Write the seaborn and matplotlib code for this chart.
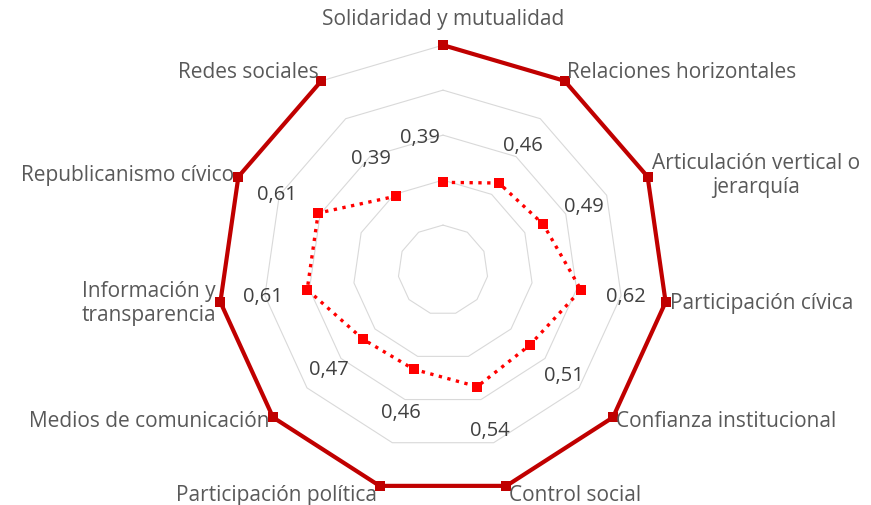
import numpy as np
import pandas as pd
import matplotlib
matplotlib.use("Agg")
import matplotlib.pyplot as plt
import seaborn as sns

categories = [
    "Solidaridad y mutualidad",
    "Relaciones horizontales",
    "Articulación vertical o\njerarquía",
    "Participación cívica",
    "Confianza institucional",
    "Control social",
    "Participación política",
    "Medios de comunicación",
    "Información y\ntransparencia",
    "Republicanismo cívico",
    "Redes sociales",
]
reference_values = [1.0] * 11
index_values = [0.39, 0.46, 0.49, 0.62, 0.51, 0.54, 0.46, 0.47, 0.61, 0.61, 0.39]
grid_levels = [0.2, 0.4, 0.6, 0.8, 1.0]


def closed_frame(values, angles):
    # repeat the first point so the polygon closes
    return pd.DataFrame({
        "theta": list(angles) + [angles[0]],
        "r": list(values) + [values[0]],
    })


def create_plot(output_path):
    sns.set_theme(style="white")
    plt.rcParams["font.family"] = ["Open Sans", "DejaVu Sans"]

    fig = plt.figure(figsize=(8.71, 5.06), dpi=100)
    ax = fig.add_axes([0.2503, 0.0198, 0.5166, 0.889], projection="polar")
    ax.set_theta_offset(np.pi / 2)
    ax.set_theta_direction(-1)

    n = len(categories)
    angles = np.linspace(0, 2 * np.pi, n, endpoint=False)

    # polygon gridlines instead of circles
    for level in grid_levels:
        ax.plot(list(angles) + [angles[0]], [level] * (n + 1),
                color="#d9d9d9", linewidth=0.8, zorder=1)

    sns.lineplot(data=closed_frame(reference_values, angles), x="theta", y="r",
                 sort=False, color="#C00000", linewidth=3.0, marker="s",
                 markersize=7.5, markeredgewidth=0, clip_on=False, zorder=3, ax=ax)
    sns.lineplot(data=closed_frame(index_values, angles), x="theta", y="r",
                 sort=False, color="#FF0000", linewidth=2.4, linestyle=":",
                 marker="s", markersize=7.5, markeredgewidth=0, clip_on=False,
                 zorder=4, ax=ax)

    ax.set_ylim(0, 1)
    ax.set_xticks([])
    ax.set_yticks([])
    ax.set_xlabel("")
    ax.set_ylabel("")
    ax.grid(False)
    ax.spines["polar"].set_visible(False)

    # category labels outside the outer ring
    for i, (theta, label) in enumerate(zip(angles, categories)):
        screen = np.pi / 2 - theta
        c, s = np.cos(screen), np.sin(screen)
        if abs(c) < 0.1:
            ha, va, r = "center", "bottom", 1.07
        else:
            ha = "left" if c > 0 else "right"
            va = "baseline" if s > 0.5 else "center"
            r = 1.04 if s < -0.9 else 1.02
        ax.text(theta, r, label, ha=ha, va=va, multialignment="center",
                fontsize=15, color="#595959", zorder=5)

    # data labels for the index series
    for i, (theta, v) in enumerate(zip(angles, index_values)):
        dx = -23 if i == 0 else 0
        ax.annotate(f"{v:.2f}".replace(".", ","), xy=(theta, v + 0.2),
                    xytext=(dx * 0.72, 0), textcoords="offset points",
                    ha="center", va="center", fontsize=14.5, color="#404040",
                    zorder=5)

    fig.savefig(output_path, dpi=100)
    plt.close(fig)


def main():
    create_plot("out.png")


if __name__ == "__main__":
    main()
